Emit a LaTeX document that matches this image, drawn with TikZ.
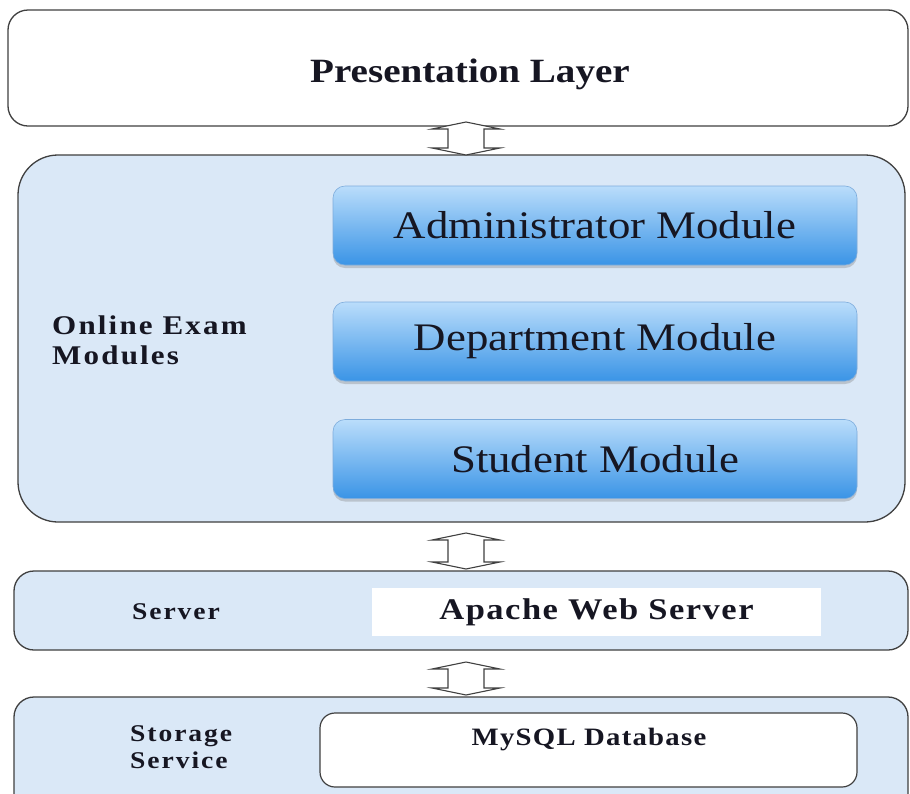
\documentclass[tikz,border=0pt]{standalone}
\usepackage{fontspec}
\setmainfont{Liberation Serif}[FakeStretch=1.15]
\usetikzlibrary{
  calc,
  shadows
}
\definecolor{layerblue}{RGB}{218,232,247}
\definecolor{modtop}{RGB}{186,221,251}
\definecolor{modbot}{RGB}{58,148,230}
\definecolor{modedge}{RGB}{125,172,220}
\definecolor{edgegray}{RGB}{64,64,64}
\definecolor{inkdark}{RGB}{22,22,34}

\begin{document}
\begin{tikzpicture}[
  x=1pt,
  y=-1pt,
  layer/.style={
    draw=edgegray,
    line width=1.3pt,
    rectangle,
    rounded corners=20pt,
    inner sep=0pt
  },
  module/.style={
    draw=modedge,
    line width=0.6pt,
    rectangle,
    rounded corners=12pt,
    top color=modtop,
    bottom color=modbot,
    minimum width=524pt,
    minimum height=79pt,
    text=inkdark,
    font=\fontsize{39}{44}\selectfont,
    drop shadow={shadow xshift=0pt, shadow yshift=-3pt, opacity=0.35}
  },
  tag/.style={
    draw=none,
    fill=none,
    text=inkdark,
    inner sep=0pt,
    align=left,
    font=\bfseries\fontsize{24}{27}\selectfont\addfontfeature{LetterSpace=8}
  },
  updown/.style={
    draw=edgegray,
    fill=white,
    line width=1.1pt,
    line join=miter
  }
]

\clip (0,0) rectangle (910,793);
\fill[white] (0,0) rectangle (910,793);

% Layers
\node[layer, fill=white, minimum width=900pt, minimum height=116pt] (pres) at (458,68) {};
\node[layer, fill=layerblue, rounded corners=40pt, minimum width=887pt, minimum height=367pt] (mods) at (461.5,338.5) {};
\node[layer, fill=layerblue, minimum width=894pt, minimum height=79pt] (srv) at (461,610.5) {};
\node[layer, fill=layerblue, minimum width=894pt, minimum height=118pt] (store) at (461,756) {};

% Titles
\node[tag, font=\bfseries\fontsize{34}{36}\selectfont] (presl) at (470,74) {Presentation Layer};
\node[tag, anchor=west, font=\bfseries\fontsize{27}{30}\selectfont\addfontfeature{LetterSpace=8}] (modsl) at (52,340) {Online Exam\\Modules};
\node[tag] (srvl) at (176,612) {Server};
\node[tag, anchor=west] (storel) at (130,747) {Storage\\Service};

% Modules
\node[module] (admin) at (595,225.5) {Administrator Module};
\node[module] (dept) at (595,341.5) {Department Module};
\node[module] (stud) at (595,459) {Student Module};

% Server and storage
\node[fill=white, minimum width=449pt, minimum height=48pt, inner sep=0pt, text=inkdark,
  font=\bfseries\fontsize{30}{32}\selectfont\addfontfeature{LetterSpace=5}] (apache) at (596.5,612) {Apache Web Server};
\node[layer, fill=white, rounded corners=15pt, line width=1.2pt, minimum width=537pt, minimum height=74pt] (db) at (588.5,750) {};
\node[tag, font=\bfseries\fontsize{25}{27}\selectfont\addfontfeature{LetterSpace=5}] (dbl) at (589,740) {MySQL Database};

% Arrows
\coordinate (a1t) at (466,122);
\coordinate (a1b) at (466,155);
\coordinate (a2t) at (466,533);
\coordinate (a2b) at (466,569);
\coordinate (a3t) at (466,662);
\coordinate (a3b) at (466,695);
\foreach \t/\b in {a1t/a1b, a2t/a2b, a3t/a3b}
  \draw[updown] (\t) -- ($(\t)+(34,7)$) -- ($(\t)+(18,7)$) -- ($(\b)+(18,-7)$)
    -- ($(\b)+(34,-7)$) -- (\b) -- ($(\b)+(-34,-7)$) -- ($(\b)+(-18,-7)$)
    -- ($(\t)+(-18,7)$) -- ($(\t)+(-34,7)$) -- cycle;

\end{tikzpicture}
\end{document}
